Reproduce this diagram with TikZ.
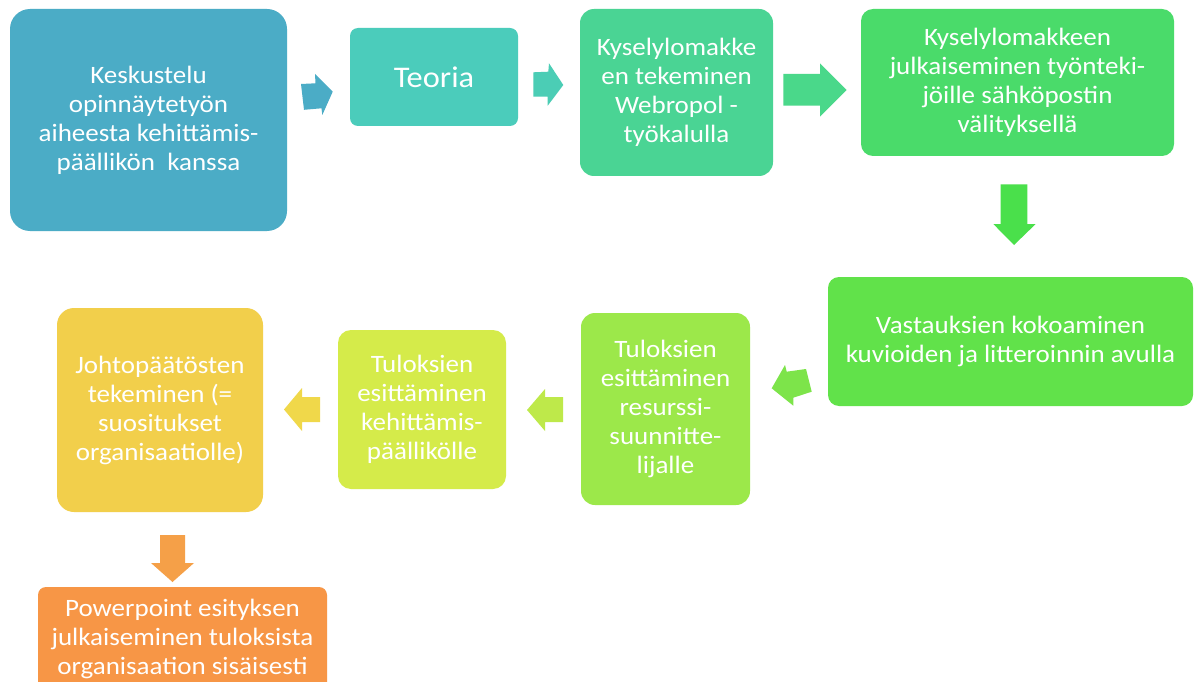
\documentclass[tikz,border=0pt]{standalone}
\usepackage{fontspec}
\setmainfont{Carlito}[FakeStretch=1.08]
\definecolor{c1}{HTML}{4BACC6}
\definecolor{c2}{HTML}{4BCCBB}
\definecolor{a2}{HTML}{4BCDB5}
\definecolor{c3}{HTML}{4AD494}
\definecolor{a3}{HTML}{4AD88A}
\definecolor{c4}{HTML}{4ADB6A}
\definecolor{a4}{HTML}{4AE04B}
\definecolor{c5}{HTML}{61E24A}
\definecolor{a5}{HTML}{7DE44A}
\definecolor{c6}{HTML}{9CE84A}
\definecolor{a6}{HTML}{BEE94A}
\definecolor{c7}{HTML}{D5EB4A}
\definecolor{a7}{HTML}{F0D84A}
\definecolor{c8}{HTML}{F2CF4B}
\definecolor{a8}{HTML}{F5A048}
\definecolor{c9}{HTML}{F79646}
\begin{document}
\begin{tikzpicture}[x=1pt,y=-1pt,
  box/.style={draw=none, text=white, align=center, inner sep=0pt,
    font=\fontsize{25}{29}\selectfont},
  blockarrow/.style={draw=none}]
\useasboundingbox (0,0) rectangle (1197,682);
\clip (0,0) rectangle (1197,682);
\fill[white] (0,0) rectangle (1197,682);
% boxes
\node[box, fill=c1, minimum width=277pt, minimum height=222pt, rounded corners=20pt] (b1) at (148.5,120)
  {Keskustelu\\opinnäytetyön\\aiheesta kehittämis-\\päällikön\ \ kanssa};
\node[box, fill=c2, minimum width=168pt, minimum height=98pt, rounded corners=8pt,
  font=\fontsize{30}{34}\selectfont] (b2) at (434,77) {Teoria};
\node[box, fill=c3, minimum width=193pt, minimum height=167pt, rounded corners=14pt] (b3) at (676.5,92.5)
  {Kyselylomakke\\en tekeminen\\Webropol -\\työkalulla};
\node[box, fill=c4, minimum width=313pt, minimum height=147pt, rounded corners=12pt] (b4) at (1017.5,82.5)
  {Kyselylomakkeen\\julkaiseminen työnteki-\\jöille sähköpostin\\välityksellä};
\node[box, fill=c5, minimum width=365pt, minimum height=129pt, rounded corners=11pt] (b5) at (1010.5,341.5)
  {Vastauksien kokoaminen\\kuvioiden ja litteroinnin avulla};
\node[box, fill=c6, minimum width=169pt, minimum height=192pt, rounded corners=14pt] (b6) at (665.5,409)
  {Tuloksien\\esittäminen\\resurssi-\\suunnitte-\\lijalle};
\node[box, fill=c7, minimum width=168pt, minimum height=159pt, rounded corners=13pt] (b7) at (422,409.5)
  {Tuloksien\\esittäminen\\kehittämis-\\päällikölle};
\node[box, fill=c8, minimum width=206pt, minimum height=204pt, rounded corners=17pt] (b8) at (160,410)
  {Johtopäätösten\\tekeminen (=\\suositukset\\organisaatiolle)};
\node[box, fill=c9, minimum width=289pt, minimum height=103pt, rounded corners=8pt] (b9) at (182.5,638.5)
  {Powerpoint esityksen\\julkaiseminen tuloksista\\organisaation sisäisesti};
% block arrows
\fill[c1] (301,84) -- (315.5,83.3) -- (315,74) -- (332.7,91.7) -- (322.3,115) -- (321.5,108.3) -- (304,109.8) -- cycle;
\fill[a2] (533.3,72.3) -- (548.3,71.7) -- (549,63.3) -- (563.3,85) -- (547.7,105.7) -- (547.7,96.7) -- (533.3,96.7) -- cycle;
\fill[a3] (783.3,74) -- (820,74) -- (820,63.3) -- (846.7,90) -- (820,116.7) -- (820,105.7) -- (783.3,105.7) -- cycle;
\fill[a4] (1000.7,184.3) -- (1027.3,184.3) -- (1027.3,224) -- (1035.7,224) -- (1014,245) -- (993.3,224) -- (1000.7,224) -- cycle;
\fill[a5] (771.7,388.3) -- (785,365) -- (786.7,371.7) -- (806,369) -- (811.7,391.7) -- (793.3,397.7) -- (793.3,405.7) -- cycle;
\fill[a6] (527,410) -- (545,389) -- (545,397) -- (563,397) -- (563,422) -- (545,422) -- (545,431) -- cycle;
\fill[a7] (284,409.5) -- (302,388) -- (302,397) -- (320,397) -- (320,422) -- (302,422) -- (302,431) -- cycle;
\fill[a8] (160,535) -- (185,535) -- (185,563) -- (194,563) -- (172.5,582) -- (151,563) -- (160,563) -- cycle;
\end{tikzpicture}
\end{document}
